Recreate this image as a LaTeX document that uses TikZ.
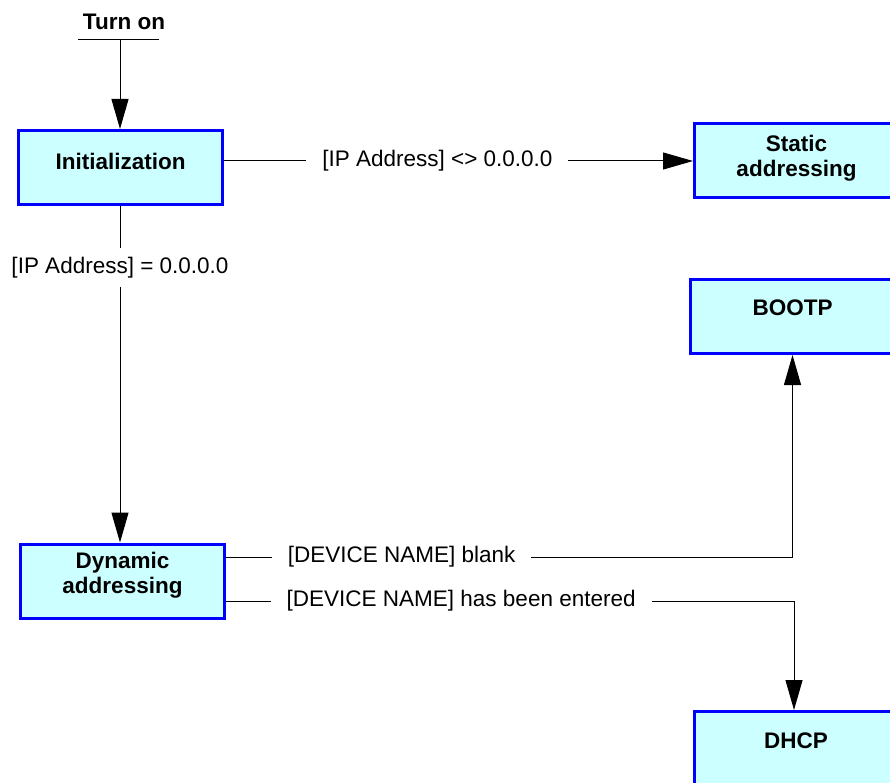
\documentclass[tikz,border=0pt]{standalone}
\usepackage{fontspec}
\setmainfont{Liberation Sans}
\usetikzlibrary{arrows.meta}
\definecolor{boxfill}{RGB}{204,255,255}
\definecolor{boxline}{RGB}{0,0,255}
\begin{document}
\begin{tikzpicture}[x=1pt,y=1pt,
  box/.style={draw=boxline,fill=boxfill,line width=3pt,minimum width=204pt,minimum height=74pt,inner sep=0pt},
  boxtext/.style={font=\fontsize{22.5}{25}\selectfont\bfseries,align=center,inner sep=0pt},
  lbl/.style={font=\fontsize{22.5}{25}\selectfont,fill=white,inner xsep=16pt,inner ysep=2pt},
  lblv/.style={lbl,inner xsep=2pt,inner ysep=9pt},
  conn/.style={line width=1pt,draw=black},
  arr/.style={conn,-{Triangle[length=30pt,width=17pt]}}]
\clip (0,0) rectangle (890,-783);
\fill[white] (0,0) rectangle (890,-783);

% boxes
\node[box] (init) at (120.5,-167.5) {};
\node[box] (static) at (796.5,-161) {};
\node[box] (bootp) at (792.5,-316.5) {};
\node[box] (dyn) at (122.5,-581) {};
\node[box] (dhcp) at (796,-748.5) {};

% box texts
\node[boxtext] (inittxt) at ([yshift=6.5pt]init.center) {Initialization};
\node[boxtext] (statictxt) at ([yshift=3pt]static.center) {Static\\addressing};
\node[boxtext] (boottxt) at ([yshift=8.5pt]bootp.center) {BOOTP};
\node[boxtext] (dyntxt) at ([yshift=6pt]dyn.center) {Dynamic\\addressing};
\node[boxtext] (dhcptxt) at ([yshift=7.5pt]dhcp.center) {DHCP};

% turn on
\node[boxtext] (turnon) at (124,-22) {Turn on};
\coordinate (tl) at (78,-40);
\coordinate (tr) at (159,-40);
\coordinate (ts) at (120,-40);
\draw[conn] (tl) -- (tr);
\draw[arr] (ts) -- (ts |- init.north);

% connectors
\draw[arr] (init.east |- static.west) -- node[lbl,pos=0.455] (lblstatic) {[IP Address] <> 0.0.0.0} (static.west);
\draw[arr] (ts |- init.south) -- node[lblv,pos=0.184] (lbldyn) {[IP Address] = 0.0.0.0} (ts |- dyn.north);
\draw[arr] ([yshift=24pt]dyn.east) -| node[lbl,pos=0.155] (lblboot) {[DEVICE NAME] blank} (bootp.south);
\draw[arr] ([yshift=-20pt]dyn.east) -| node[lbl,pos=0.207] (lbldhcp) {[DEVICE NAME] has been entered} ([xshift=-2pt]dhcp.north);
\end{tikzpicture}
\end{document}
